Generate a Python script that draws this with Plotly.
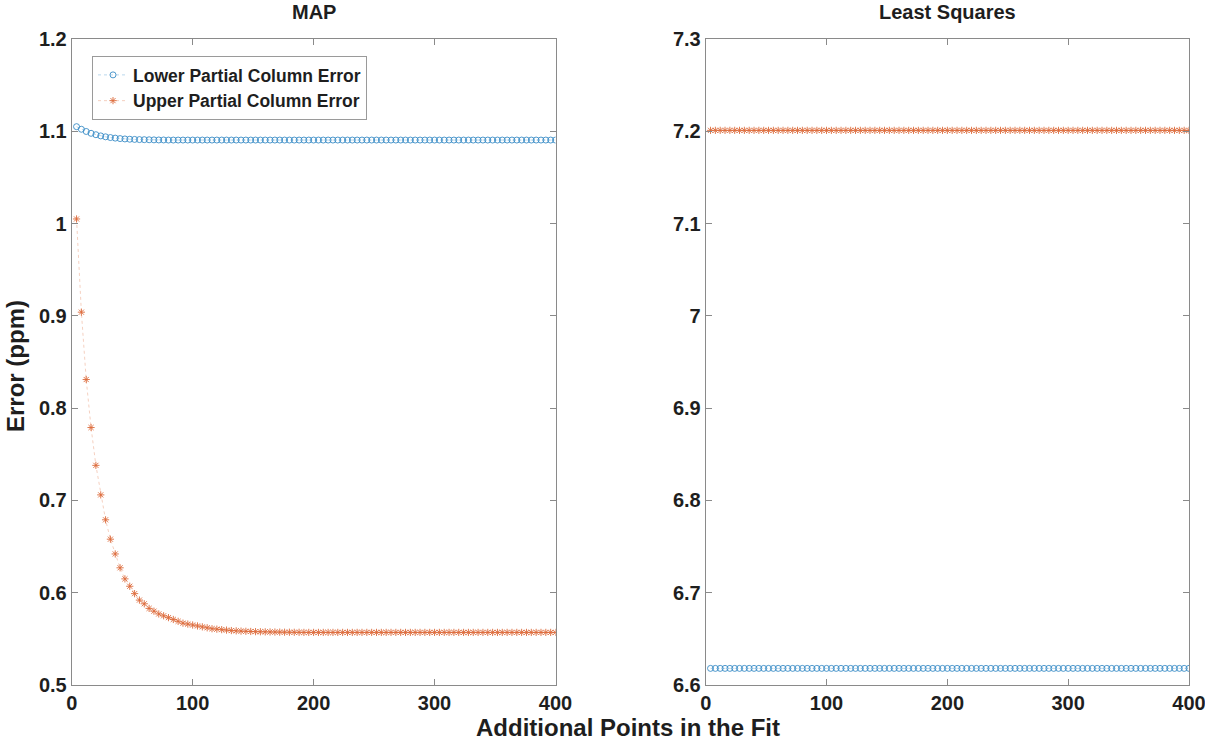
import plotly.graph_objects as go

# ---------------- data ----------------
x_points = list(range(4, 401, 4))

map_lower = [
    1.1050, 1.1022, 1.0998, 1.0978, 1.0963, 1.0950, 1.0940, 1.0932, 1.0926, 1.0921,
    1.0917, 1.0914, 1.0912, 1.0910, 1.0909, 1.0908, 1.0907, 1.0906, 1.0906, 1.0905,
    1.0905, 1.0905, 1.0905, 1.0905, 1.0905, 1.0905, 1.0905, 1.0905, 1.0905, 1.0905,
    1.0905, 1.0905, 1.0905, 1.0905, 1.0905, 1.0905, 1.0905, 1.0905, 1.0905, 1.0905,
    1.0905, 1.0905, 1.0905, 1.0905, 1.0905, 1.0905, 1.0905, 1.0905, 1.0905, 1.0905,
    1.0905, 1.0905, 1.0905, 1.0905, 1.0905, 1.0905, 1.0905, 1.0905, 1.0905, 1.0905,
    1.0905, 1.0905, 1.0905, 1.0905, 1.0905, 1.0905, 1.0905, 1.0905, 1.0905, 1.0905,
    1.0905, 1.0905, 1.0905, 1.0905, 1.0905, 1.0905, 1.0905, 1.0905, 1.0905, 1.0905,
    1.0905, 1.0905, 1.0905, 1.0905, 1.0905, 1.0905, 1.0905, 1.0905, 1.0905, 1.0905,
    1.0905, 1.0905, 1.0905, 1.0905, 1.0905, 1.0905, 1.0905, 1.0905, 1.0905, 1.0905,
]

map_upper = [
    1.005, 0.904, 0.831, 0.779, 0.738, 0.706, 0.679, 0.658, 0.642, 0.627,
    0.615, 0.607, 0.599, 0.592, 0.588, 0.583, 0.580, 0.577, 0.575, 0.573,
    0.571, 0.569, 0.567, 0.566, 0.565, 0.564, 0.563, 0.562, 0.561, 0.5605,
    0.5600, 0.5595, 0.5590, 0.5587, 0.5584, 0.5582, 0.5580, 0.5578, 0.5577, 0.5576,
    0.5575, 0.5574, 0.5573, 0.5572, 0.5572, 0.5571, 0.5571, 0.5570, 0.5570, 0.5570,
    0.557, 0.557, 0.557, 0.557, 0.557, 0.557, 0.557, 0.557, 0.557, 0.557,
    0.557, 0.557, 0.557, 0.557, 0.557, 0.557, 0.557, 0.557, 0.557, 0.557,
    0.557, 0.557, 0.557, 0.557, 0.557, 0.557, 0.557, 0.557, 0.557, 0.557,
    0.557, 0.557, 0.557, 0.557, 0.557, 0.557, 0.557, 0.557, 0.557, 0.557,
    0.557, 0.557, 0.557, 0.557, 0.557, 0.557, 0.557, 0.557, 0.557, 0.557,
]

ls_lower = [
    6.618, 6.618, 6.618, 6.618, 6.618, 6.618, 6.618, 6.618, 6.618, 6.618,
    6.618, 6.618, 6.618, 6.618, 6.618, 6.618, 6.618, 6.618, 6.618, 6.618,
    6.618, 6.618, 6.618, 6.618, 6.618, 6.618, 6.618, 6.618, 6.618, 6.618,
    6.618, 6.618, 6.618, 6.618, 6.618, 6.618, 6.618, 6.618, 6.618, 6.618,
    6.618, 6.618, 6.618, 6.618, 6.618, 6.618, 6.618, 6.618, 6.618, 6.618,
    6.618, 6.618, 6.618, 6.618, 6.618, 6.618, 6.618, 6.618, 6.618, 6.618,
    6.618, 6.618, 6.618, 6.618, 6.618, 6.618, 6.618, 6.618, 6.618, 6.618,
    6.618, 6.618, 6.618, 6.618, 6.618, 6.618, 6.618, 6.618, 6.618, 6.618,
    6.618, 6.618, 6.618, 6.618, 6.618, 6.618, 6.618, 6.618, 6.618, 6.618,
    6.618, 6.618, 6.618, 6.618, 6.618, 6.618, 6.618, 6.618, 6.618, 6.618,
]

ls_upper = [
    7.201, 7.201, 7.201, 7.201, 7.201, 7.201, 7.201, 7.201, 7.201, 7.201,
    7.201, 7.201, 7.201, 7.201, 7.201, 7.201, 7.201, 7.201, 7.201, 7.201,
    7.201, 7.201, 7.201, 7.201, 7.201, 7.201, 7.201, 7.201, 7.201, 7.201,
    7.201, 7.201, 7.201, 7.201, 7.201, 7.201, 7.201, 7.201, 7.201, 7.201,
    7.201, 7.201, 7.201, 7.201, 7.201, 7.201, 7.201, 7.201, 7.201, 7.201,
    7.201, 7.201, 7.201, 7.201, 7.201, 7.201, 7.201, 7.201, 7.201, 7.201,
    7.201, 7.201, 7.201, 7.201, 7.201, 7.201, 7.201, 7.201, 7.201, 7.201,
    7.201, 7.201, 7.201, 7.201, 7.201, 7.201, 7.201, 7.201, 7.201, 7.201,
    7.201, 7.201, 7.201, 7.201, 7.201, 7.201, 7.201, 7.201, 7.201, 7.201,
    7.201, 7.201, 7.201, 7.201, 7.201, 7.201, 7.201, 7.201, 7.201, 7.201,
]

series_names = ["Lower Partial Column Error", "Upper Partial Column Error"]
panel_titles = ["MAP", "Least Squares"]
x_ticks = [0, 100, 200, 300, 400]
y_ticks_left = [0.5, 0.6, 0.7, 0.8, 0.9, 1.0, 1.1, 1.2]
y_ticktext_left = ["0.5", "0.6", "0.7", "0.8", "0.9", "1", "1.1", "1.2"]
y_ticks_right = [6.6, 6.7, 6.8, 6.9, 7.0, 7.1, 7.2, 7.3]
y_ticktext_right = ["6.6", "6.7", "6.8", "6.9", "7", "7.1", "7.2", "7.3"]
x_label = "Additional Points in the Fit"
y_label = "Error (ppm)"

# ---------------- style ----------------
BLUE = "#3a8cc6"
ORANGE = "#dc6a3a"
FONT = "Liberation Sans"
TXT = "#1e1e1e"
AX = "#8a8a8a"

fig = go.Figure()

def add_pair(lower, upper, xa, ya, show):
    fig.add_trace(go.Scatter(
        x=x_points, y=lower, xaxis=xa, yaxis=ya, name=series_names[0],
        mode="lines+markers", showlegend=show,
        line=dict(color="rgba(0,114,189,0.35)", width=0.8, dash="dot"),
        marker=dict(symbol="circle-open", size=6, color=BLUE, line=dict(width=0.9, color=BLUE)),
    ))
    fig.add_trace(go.Scatter(
        x=x_points, y=upper, xaxis=xa, yaxis=ya, name=series_names[1],
        mode="lines+markers", showlegend=show,
        line=dict(color="rgba(217,83,25,0.35)", width=0.8, dash="dot"),
        marker=dict(symbol="asterisk-open", size=6, color=ORANGE, line=dict(width=0.9, color=ORANGE)),
    ))

add_pair(map_lower, map_upper, "x", "y", True)
add_pair(ls_lower, ls_upper, "x2", "y2", False)

W, H = 1205, 740
left_dom = [71.7 / W, 555.5 / W]
right_dom = [705.7 / W, 1189.0 / W]
y_dom = [(H - 685.0) / H, (H - 39.0) / H]

tick_font = dict(family=FONT, size=20, color=TXT, weight="bold")

common_x = dict(
    range=[0, 400], tickvals=x_ticks, ticks="inside", ticklen=6, tickcolor=AX,
    showline=True, linecolor=AX, linewidth=1, mirror="ticks", showgrid=False,
    zeroline=False, tickfont=tick_font, automargin=False, ticklabeloverflow="allow",
)
common_y = dict(
    ticks="inside", ticklen=6, tickcolor=AX,
    showline=True, linecolor=AX, linewidth=1, mirror="ticks", showgrid=False,
    zeroline=False, tickfont=tick_font, automargin=False, ticklabeloverflow="allow",
)

fig.update_layout(
    width=W, height=H,
    margin=dict(l=0, r=0, t=0, b=0, autoexpand=False),
    paper_bgcolor="white", plot_bgcolor="white",
    xaxis=dict(domain=left_dom, anchor="y", **common_x),
    yaxis=dict(domain=y_dom, anchor="x", range=[0.5, 1.2], tickvals=y_ticks_left,
               ticktext=y_ticktext_left, **common_y),
    xaxis2=dict(domain=right_dom, anchor="y2", **common_x),
    yaxis2=dict(domain=y_dom, anchor="x2", range=[6.6, 7.3], tickvals=y_ticks_right,
                ticktext=y_ticktext_right, **common_y),
    legend=dict(
        x=92 / W, y=(H - 56) / H, xanchor="left", yanchor="top",
        bgcolor="white", bordercolor="#9a9a9a", borderwidth=1,
        font=dict(family=FONT, size=17.5, color=TXT, weight="bold"),
        itemwidth=30, tracegroupgap=0,
    ),
    showlegend=True,
)

annotations = [
    dict(text=panel_titles[0], x=(left_dom[0] + left_dom[1]) / 2, y=(H - 12) / H,
         xref="paper", yref="paper", showarrow=False, xanchor="center", yanchor="middle",
         font=dict(family=FONT, size=20, color=TXT, weight="bold")),
    dict(text=panel_titles[1], x=(right_dom[0] + right_dom[1]) / 2, y=(H - 12) / H,
         xref="paper", yref="paper", showarrow=False, xanchor="center", yanchor="middle",
         font=dict(family=FONT, size=20, color=TXT, weight="bold")),
    dict(text=x_label, x=628 / W, y=(H - 727) / H, xref="paper", yref="paper",
         showarrow=False, xanchor="center", yanchor="middle",
         font=dict(family=FONT, size=24, color=TXT, weight="bold")),
    dict(text=y_label, x=15 / W, y=(H - 366) / H, xref="paper", yref="paper",
         showarrow=False, xanchor="center", yanchor="middle", textangle=-90,
         font=dict(family=FONT, size=24, color=TXT, weight="bold")),
]
fig.update_layout(annotations=annotations)

fig.write_html(
    "out.html",
    config={"displayModeBar": False},
    post_script="document.body.style.margin='0';document.body.style.overflow='hidden';",
)
